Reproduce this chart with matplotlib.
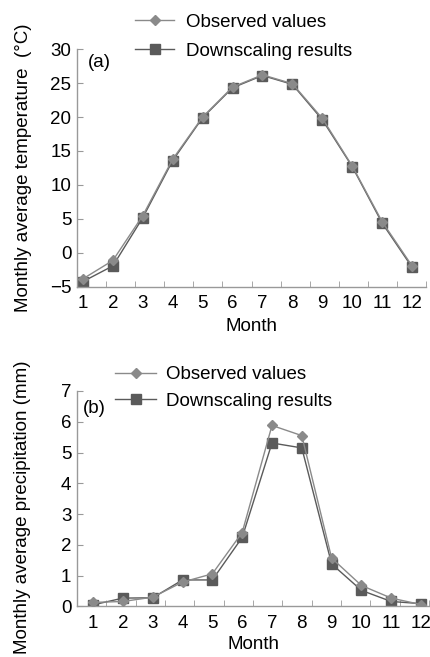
import numpy as np
import matplotlib.pyplot as plt

plt.rcParams['font.family'] = ['Liberation Sans', 'DejaVu Sans']

# data
months = np.arange(1, 13)
tempObserved = [-3.8, -1.1, 5.5, 13.8, 20.0, 24.4, 26.2, 24.9, 19.8, 12.8, 4.6, -1.9]
tempDownscaled = [-4.2, -1.9, 5.2, 13.6, 19.9, 24.3, 26.1, 24.8, 19.6, 12.7, 4.4, -2.1]
precipObserved = [0.13, 0.16, 0.30, 0.79, 1.06, 2.40, 5.88, 5.55, 1.57, 0.68, 0.27, 0.06]
precipDownscaled = [0.05, 0.27, 0.28, 0.86, 0.86, 2.24, 5.31, 5.15, 1.38, 0.52, 0.16, 0.09]
obsLabel = "Observed values"
downLabel = "Downscaling results"

spineColor = '#999999'
obsColor = '#8a8a8a'
downColor = '#5a5a5a'
fs = 13.5

fig = plt.figure(figsize=(4.3, 6.57), dpi=100)
axA = fig.add_axes([0.179, 0.5632, 0.812, 0.3622])
axB = fig.add_axes([0.179, 0.077, 0.819, 0.3279])


def styleAxis(ax, xlim, ylim, yticks):
    ax.set_xlim(*xlim)
    ax.set_ylim(*ylim)
    ax.set_yticks(yticks)
    ax.set_xticks(months)
    ax.set_xticks(np.linspace(xlim[0], xlim[1], 13), minor=True)
    ax.tick_params(axis='x', which='major', length=0, pad=6, labelsize=fs)
    ax.tick_params(axis='x', which='minor', direction='in', length=4, color=spineColor)
    ax.tick_params(axis='y', direction='in', length=4, color=spineColor, labelsize=fs, pad=4)
    for s in ['top', 'right']:
        ax.spines[s].set_visible(False)
    for s in ['left', 'bottom']:
        ax.spines[s].set_color(spineColor)
        ax.spines[s].set_linewidth(1.0)


def drawSeries(ax, obs, down):
    ax.plot(months, obs, color=obsColor, lw=1.0, marker='D', ms=5.5,
            mfc=obsColor, mec=obsColor, label=obsLabel, zorder=3)
    ax.plot(months, down, color=downColor, lw=1.0, marker='s', ms=7.5,
            mfc=downColor, mec=downColor, label=downLabel, zorder=2)


# (a) temperature
drawSeries(axA, tempObserved, tempDownscaled)
styleAxis(axA, (0.8, 12.47), (-5, 30), np.arange(-5, 31, 5))
axA.set_ylabel("Monthly average temperature  (°C)", fontsize=fs)
axA.yaxis.set_label_coords(-0.13, 0.5)
axA.set_xlabel("Month", fontsize=fs, labelpad=4)
axA.text(0.03, 0.98, "(a)", transform=axA.transAxes, fontsize=fs, va='top')
axA.legend(loc='center left', bbox_to_anchor=(0.166, 1.052), frameon=False,
           fontsize=fs, handlelength=2.1, handletextpad=0.6, labelspacing=0.65,
           borderpad=0, borderaxespad=0)

# (b) precipitation
drawSeries(axB, precipObserved, precipDownscaled)
styleAxis(axB, (0.46, 12.27), (0, 7), np.arange(0, 8, 1))
axB.set_ylabel("Monthly average precipitation (mm)", fontsize=fs)
axB.yaxis.set_label_coords(-0.13, 0.46)
axB.set_xlabel("Month", fontsize=fs, labelpad=3)
axB.text(0.018, 0.96, "(b)", transform=axB.transAxes, fontsize=fs, va='top')
axB.legend(loc='center left', bbox_to_anchor=(0.108, 1.013), frameon=False,
           fontsize=fs, handlelength=2.2, handletextpad=0.5, labelspacing=0.5,
           borderpad=0, borderaxespad=0)

fig.savefig('out.png', dpi=100)
